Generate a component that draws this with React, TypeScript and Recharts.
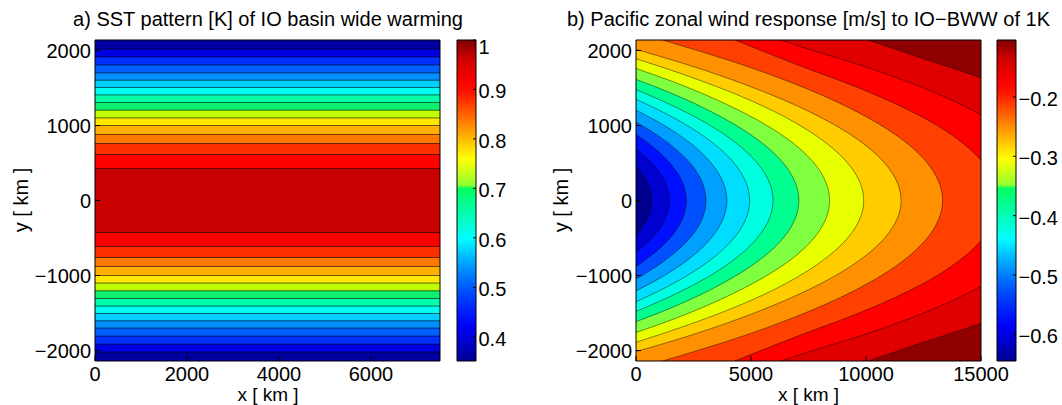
import React from 'react';
import { ComposedChart, Area, XAxis, YAxis } from 'recharts';

const FONT = '"Liberation Sans", Arial, Helvetica, sans-serif';

// a) SST pattern: contour edges, km away from the equator (inner -> outer)
const sstEdges = [427, 613, 760, 880, 1000, 1101, 1204, 1307, 1408, 1507, 1604, 1701, 1808, 1915, 2021];

// b) zonal wind contours, upper half as [y km, x km], innermost first
const windContours: number[][][] = [
  [[0, 680], [185, 570], [320, 345], [415, 130], [460, 0]],
  [[0, 1450], [275, 1220], [485, 740], [620, 275], [690, 0]],
  [[0, 2190], [350, 1840], [615, 1115], [790, 415], [880, 0]],
  [[0, 3040], [420, 2555], [730, 1550], [940, 580], [1045, 0]],
  [[0, 3950], [480, 3320], [845, 2015], [1085, 750], [1205, 0]],
  [[0, 4940], [540, 4150], [945, 2520], [1215, 940], [1350, 0]],
  [[0, 5960], [590, 5005], [1035, 3040], [1330, 1130], [1480, 0]],
  [[0, 7080], [645, 5950], [1130, 3610], [1455, 1345], [1615, 0]],
  [[0, 8415], [705, 7070], [1230, 4290], [1585, 1600], [1760, 0]],
  [[0, 9900], [755, 8315], [1325, 5050], [1700, 1880], [1890, 0]],
  [[0, 11525], [805, 9680], [1410, 5880], [1815, 2190], [2015, 0]],
  [[0, 13330], [800, 11630], [1400, 8120], [1800, 4720], [2140, 1160]],
  [[0, 15800], [500, 15100], [1000, 13100], [1500, 9700], [1800, 7100], [2140, 4300]],
  [[0, 18500], [1000, 15800], [1500, 12500], [1800, 9800], [2035, 7333], [2140, 6300]],
  [[0, 21900], [1000, 19200], [1635, 15000], [1900, 12400], [2140, 10090]],
];

const yLim = 2140;
const xMaxA = 7500;
const xMaxB = 15000;
const yTicks = [-2000, -1000, 0, 1000, 2000];
const xTicksA = [0, 2000, 4000, 6000];
const xTicksB = [0, 5000, 10000, 15000];
const cbTicksA = [0.4, 0.5, 0.6, 0.7, 0.8, 0.9, 1];
const cbTicksB = [-0.6, -0.5, -0.4, -0.3, -0.2];
const cbRangeA = [0.351, 1];
const cbRangeB = [-0.645, -0.104];

// fill colours per band, inner band first
const sstColors = ['#C80000', '#FF0000', '#FF3000', '#FF7800', '#FFB000', '#FFE800', '#C0FF00', '#10F070',
  '#00FFA8', '#00FFF0', '#00D0FF', '#0090FF', '#0060FF', '#0030FF', '#0000E0', '#0000A0'];
const windColors = ['#00008F', '#0000D0', '#0010FF', '#0050FF', '#00A0FF', '#00DDFF', '#00FFE0', '#00FF90',
  '#80FF40', '#E8FF00', '#FFCC00', '#FF9000', '#FF4000', '#FF0000', '#E00000', '#900000'];

const cmapStops: [number, string][] = [
  [0, '#00008F'], [0.11, '#0000FF'], [0.2, '#0040FF'], [0.27, '#0080FF'], [0.33, '#00C0FF'],
  [0.38, '#00FFFF'], [0.46, '#00FFB0'], [0.538, '#00FF60'], [0.548, '#90FF30'], [0.6, '#D8FF10'],
  [0.63, '#FFFF00'], [0.7, '#FFB000'], [0.77, '#FF6000'], [0.84, '#FF1000'], [0.87, '#FF0000'],
  [0.94, '#D00000'], [1, '#800000'],
];

const fmt = (v: number) => (v < 0 ? '\u2212' + Math.abs(v) : String(v));
const mirror = (pts: number[][]) => [
  ...pts.slice(1).reverse().map(([y, x]) => ({ y: -y, x })),
  ...pts.map(([y, x]) => ({ y, x })),
];
// a horizontal strip |y| < e across the whole panel
const strip = (e: number, xMax: number) => [{ x: 0, v: [-e, e] }, { x: xMax, v: [-e, e] }];

const tickFont = { fontSize: 20, fill: '#000', fontFamily: FONT };
const lineStroke = { stroke: '#000' };

function frameAxes(xTicks: number[], xMax: number, vertical: boolean) {
  return [
    <XAxis key="xb" xAxisId="b" type="number" dataKey={vertical ? undefined : 'x'} domain={[0, xMax]} ticks={xTicks}
      allowDataOverflow tickFormatter={fmt} tick={tickFont} tickSize={-5} tickMargin={11} height={30}
      axisLine={lineStroke} tickLine={lineStroke} />,
    <XAxis key="xt" xAxisId="t" orientation="top" type="number" dataKey={vertical ? undefined : 'x'}
      domain={[0, xMax]} ticks={xTicks} allowDataOverflow tick={false} tickSize={-5} height={1}
      axisLine={lineStroke} tickLine={lineStroke} />,
    <YAxis key="yl" yAxisId="l" type="number" dataKey={vertical ? 'y' : undefined} domain={[-yLim, yLim]}
      ticks={yTicks} reversed={vertical} allowDataOverflow tickFormatter={fmt} tick={tickFont} tickSize={-5}
      tickMargin={9} width={80} axisLine={lineStroke} tickLine={lineStroke} />,
    <YAxis key="yr" yAxisId="r" orientation="right" type="number" dataKey={vertical ? 'y' : undefined}
      domain={[-yLim, yLim]} ticks={yTicks} reversed={vertical} allowDataOverflow tick={false} tickSize={-5}
      width={1} axisLine={lineStroke} tickLine={lineStroke} />,
  ];
}

function PanelA() {
  return (
    <ComposedChart width={441} height={405} margin={{ top: 39, right: 0, bottom: 14, left: 15 }}>
      <Area xAxisId="t" yAxisId="r" data={strip(yLim, xMaxA)} dataKey="v" type="linear"
        fill={sstColors[15]} fillOpacity={1} stroke="none" dot={false} activeDot={false} isAnimationActive={false} />
      {sstEdges.map((e, i) => i).reverse().map((i) => (
        <Area key={i} xAxisId="b" yAxisId="l" data={strip(sstEdges[i], xMaxA)} dataKey="v" type="linear"
          fill={sstColors[i]} fillOpacity={1} stroke="#000" strokeOpacity={0.65} strokeWidth={0.9}
          dot={false} activeDot={false} isAnimationActive={false} />
      ))}
      {frameAxes(xTicksA, xMaxA, false)}
    </ComposedChart>
  );
}

function PanelB() {
  return (
    <ComposedChart layout="vertical" width={500} height={405} margin={{ top: 39, right: 48, bottom: 14, left: 26 }}>
      <Area xAxisId="t" yAxisId="r" data={[{ y: -yLim, x: xMaxB }, { y: yLim, x: xMaxB }]} dataKey="x"
        type="linear" baseValue={0} fill={windColors[15]} fillOpacity={1} stroke="none"
        dot={false} activeDot={false} isAnimationActive={false} />
      {windContours.map((c, i) => i).reverse().map((i) => (
        <Area key={i} xAxisId="b" yAxisId="l" data={mirror(windContours[i])} dataKey="x" type="monotone"
          baseValue={0} fill={windColors[i]} fillOpacity={1} stroke="#000" strokeOpacity={0.55}
          strokeWidth={0.8} dot={false} activeDot={false} isAnimationActive={false} />
      ))}
      {frameAxes(xTicksB, xMaxB, true)}
    </ComposedChart>
  );
}

function ColorBar({ id, width, range, ticks }: { id: string; width: number; range: number[]; ticks: number[] }) {
  const CbTick = (p: any) => {
    const v = p.payload.value;
    const dy = v === range[1] ? 14 : 9;
    return (
      <text x={p.x} y={p.y + dy} fontSize={20} fontFamily={FONT} fill="#000" textAnchor="start">{fmt(v)}</text>
    );
  };
  const bar = [{ x: 0, v: range }, { x: 1, v: range }];
  return (
    <ComposedChart width={width} height={405} margin={{ top: 40, right: 0, bottom: 44, left: 16 }}>
      <defs>
        <linearGradient id={id} x1="0" y1="1" x2="0" y2="0">
          {cmapStops.map(([t, c]) => <stop key={t} offset={t} stopColor={c} />)}
        </linearGradient>
      </defs>
      <Area xAxisId="c" yAxisId="cl" data={bar} dataKey="v" type="linear" fill="none" stroke="none"
        dot={false} activeDot={false} isAnimationActive={false} />
      <Area xAxisId="c" yAxisId="c" data={bar} dataKey="v" type="linear" fill={`url(#${id})`} fillOpacity={1}
        stroke="#000" strokeWidth={1} dot={false} activeDot={false} isAnimationActive={false} />
      <XAxis xAxisId="c" type="number" dataKey="x" domain={[0, 1]} hide />
      <YAxis yAxisId="cl" type="number" domain={range} ticks={ticks} tick={false} tickLine={false}
        width={1} axisLine={lineStroke} />
      <YAxis yAxisId="c" orientation="right" type="number" domain={range} ticks={ticks}
        tick={<CbTick />} tickSize={-3} tickMargin={5.5} width={width - 36}
        axisLine={lineStroke} tickLine={lineStroke} />
    </ComposedChart>
  );
}

export default function App() {
  const txt = { fontSize: 20, fontFamily: FONT, fill: '#000' };
  const xlab = { fontSize: 19, fontFamily: FONT, fill: '#000' };
  return (
    <div style={{ position: 'absolute', left: 0, top: 0, width: 1062, height: 405, background: '#fff' }}>
      <div style={{ position: 'absolute', left: 0, top: 0 }}><PanelA /></div>
      <div style={{ position: 'absolute', left: 440, top: 0 }}>
        <ColorBar id="cbA" width={80} range={cbRangeA} ticks={cbTicksA} />
      </div>
      <div style={{ position: 'absolute', left: 530, top: 0 }}><PanelB /></div>
      <div style={{ position: 'absolute', left: 980, top: 0 }}>
        <ColorBar id="cbB" width={82} range={cbRangeB} ticks={cbTicksB} />
      </div>
      <svg width={1062} height={405} style={{ position: 'absolute', left: 0, top: 0, pointerEvents: 'none' }}>
        <text x={268} y={25.5} textAnchor="middle" {...txt}>a) SST pattern [K] of IO basin wide warming</text>
        <text x={808.5} y={25.5} textAnchor="middle" {...txt}>b) Pacific zonal wind response [m/s] to IO{'\u2212'}BWW of 1K</text>
        <text x={268} y={400.5} textAnchor="middle" {...xlab}>x [ km ]</text>
        <text x={808.5} y={400.5} textAnchor="middle" {...xlab}>x [ km ]</text>
        <text x={0} y={0} textAnchor="middle" transform="translate(28,200) rotate(-90)" {...txt}>y [ km ]</text>
        <text x={0} y={0} textAnchor="middle" transform="translate(568,200) rotate(-90)" {...txt}>y [ km ]</text>
      </svg>
    </div>
  );
}
